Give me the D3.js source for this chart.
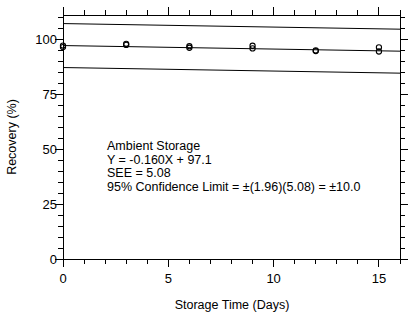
<!DOCTYPE html>
<html>
<head>
<meta charset="utf-8">
<script src="https://cdn.jsdelivr.net/npm/d3@7"></script>
<style>
  body { margin: 0; background: #fff; }
  svg text { font-family: "Liberation Sans", Arial, sans-serif; fill: #000; }
</style>
</head>
<body>
<div class="chart"></div>
<script>
// recovery data (two replicates per day)
const days = [0, 0, 3, 3, 6, 6, 9, 9, 12, 12, 15, 15];
const recovery = [97.1, 96.4, 97.9, 97.4, 96.8, 96.1, 97.0, 95.8, 94.9, 94.6, 96.3, 94.4];

const slope = -0.160;
const intercept = 97.1;
const limit = 10.0;

const xTicks = [0, 5, 10, 15];
const yTicks = [0, 25, 50, 75, 100];

const notes = [
  "Ambient Storage",
  "Y = -0.160X + 97.1",
  "SEE = 5.08",
  "95% Confidence Limit = \u00b1(1.96)(5.08) = \u00b110.0"
];

const w = 416, h = 316;
const m = { left: 63, right: 16, top: 15, bottom: 57 };

const svg = d3.select(".chart").append("svg")
    .attr("width", w)
    .attr("height", h);

const x = d3.scaleLinear().domain([0, 16]).range([m.left, w - m.right]);
const y = d3.scaleLinear().domain([0, 111]).range([h - m.bottom, m.top]);

const g = svg.append("g").attr("shape-rendering", "crispEdges");

// frame
g.append("rect")
    .attr("x", x(0)).attr("y", y(111))
    .attr("width", x(16) - x(0)).attr("height", y(0) - y(111))
    .attr("fill", "none").attr("stroke", "#000");

const minorX = d3.range(0, 17, 1);
const minorY = d3.range(0, 111, 5);

// ticks on all four sides, pointing outward
minorX.forEach(v => {
  const len = v % 5 === 0 ? 8 : 5;
  g.append("line").attr("x1", x(v)).attr("x2", x(v))
      .attr("y1", y(0)).attr("y2", y(0) + len).attr("stroke", "#000");
  g.append("line").attr("x1", x(v)).attr("x2", x(v))
      .attr("y1", y(111)).attr("y2", y(111) - len).attr("stroke", "#000");
});
minorY.forEach(v => {
  const len = v % 25 === 0 ? 8 : 5;
  g.append("line").attr("y1", y(v)).attr("y2", y(v))
      .attr("x1", x(0)).attr("x2", x(0) - len).attr("stroke", "#000");
  g.append("line").attr("y1", y(v)).attr("y2", y(v))
      .attr("x1", x(16)).attr("x2", x(16) + len).attr("stroke", "#000");
});

svg.selectAll(".xl").data(xTicks).join("text")
    .attr("x", d => x(d)).attr("y", y(0) + 24)
    .attr("text-anchor", "middle")
    .attr("font-size", 13)
    .text(d => d);

svg.selectAll(".yl").data(yTicks).join("text")
    .attr("x", x(0) - 6).attr("y", d => y(d) + 5)
    .attr("text-anchor", "end")
    .attr("font-size", 13)
    .text(d => d);

svg.append("text")
    .attr("x", 232).attr("y", 309)
    .attr("text-anchor", "middle")
    .attr("font-size", 12.5)
    .text("Storage Time (Days)");

svg.append("text")
    .attr("transform", `translate(16,${(y(0) + y(111)) / 2}) rotate(-90)`)
    .attr("text-anchor", "middle")
    .attr("font-size", 12.5)
    .text("Recovery (%)");

// regression and confidence lines
[0, limit, -limit].forEach(off => {
  svg.append("line")
      .attr("x1", x(0)).attr("x2", x(16))
      .attr("y1", y(intercept + off)).attr("y2", y(intercept + off + slope * 16))
      .attr("stroke", "#000").attr("stroke-width", 1);
});

svg.selectAll(".pt").data(days).join("circle")
    .attr("cx", d => x(d))
    .attr("cy", (d, i) => y(recovery[i]))
    .attr("r", 2.6)
    .attr("fill", "none")
    .attr("stroke", "#000")
    .attr("stroke-width", 1.1);

svg.selectAll(".note").data(notes).join("text")
    .attr("x", 107)
    .attr("y", (d, i) => 150 + i * 13.5)
    .attr("font-size", 12.5)
    .text(d => d);
</script>
</body>
</html>
